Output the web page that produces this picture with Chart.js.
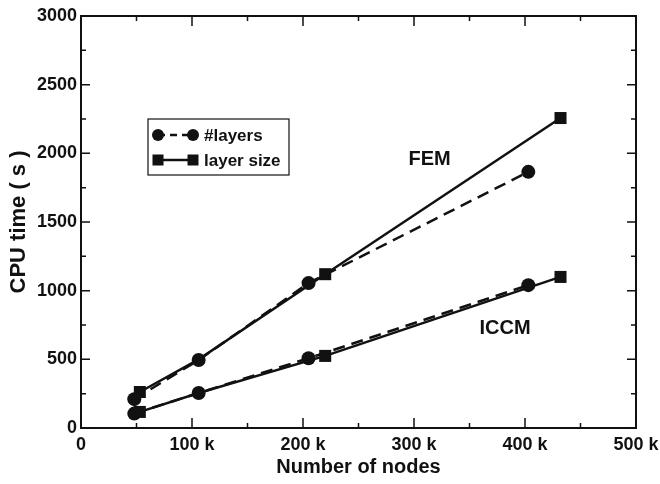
<!DOCTYPE html>
<html>
<head>
<meta charset="utf-8">
<script src="https://cdn.jsdelivr.net/npm/chart.js@4.4.1/dist/chart.umd.min.js"></script>
<style>
  html, body { margin: 0; padding: 0; background: #fff; }
</style>
</head>
<body>
<canvas id="cpu" width="660" height="484"></canvas>
<script>
// values
const nodesLayers = [48000, 106000, 205000, 403000];
const nodesSize = [53000, 106000, 220000, 432000];
const femLayers = [210, 495, 1055, 1865];
const femSize = [262, 500, 1120, 2257];
const iccmLayers = [105, 255, 508, 1040];
const iccmSize = [117, 255, 525, 1100];
const legendLabels = ['#layers', 'layer size'];
const curveNames = ['FEM', 'ICCM'];
const curveNameAt = [[314000, 1952], [382000, 721]];

const FONT = '"Liberation Sans", Arial, sans-serif';
const INK = '#111';

function pts(xs, ys) {
  return xs.map((x, i) => ({ x, y: ys[i] }));
}

function series(label, xs, ys, dashed) {
  return {
    label,
    data: pts(xs, ys),
    showLine: true,
    borderColor: INK,
    backgroundColor: INK,
    borderWidth: 2.5,
    borderDash: dashed ? [12, 7] : [],
    pointStyle: dashed ? 'circle' : 'rect',
    // the square at 106 k sits under the circle in the scan
    pointRadius: dashed ? 7 : [8.5, 5, 8.5, 8.5],
    pointBorderWidth: 0,
    pointBackgroundColor: INK,
    tension: 0,
  };
}

// frame, inward ticks, curve names and the boxed legend
const decor = {
  id: 'decor',
  afterDraw(chart) {
    const { ctx, chartArea: a, scales: { x, y } } = chart;
    ctx.save();
    ctx.strokeStyle = INK;
    ctx.lineWidth = 2;
    ctx.strokeRect(a.left, a.top, a.right - a.left, a.bottom - a.top);

    ctx.lineWidth = 1.5;
    for (let v = 0; v <= 500000; v += 50000) {
      const px = x.getPixelForValue(v);
      const len = v % 100000 === 0 ? 10 : 5;
      ctx.beginPath();
      ctx.moveTo(px, a.bottom); ctx.lineTo(px, a.bottom - len);
      ctx.moveTo(px, a.top); ctx.lineTo(px, a.top + len);
      ctx.stroke();
    }
    for (let v = 0; v <= 3000; v += 250) {
      const py = y.getPixelForValue(v);
      const len = v % 500 === 0 ? 9 : 5;
      ctx.beginPath();
      ctx.moveTo(a.left, py); ctx.lineTo(a.left + len, py);
      ctx.moveTo(a.right, py); ctx.lineTo(a.right - len, py);
      ctx.stroke();
    }

    ctx.fillStyle = INK;
    ctx.font = 'bold 20px ' + FONT;
    ctx.textAlign = 'center';
    ctx.textBaseline = 'middle';
    curveNames.forEach((t, i) => {
      ctx.fillText(t, x.getPixelForValue(curveNameAt[i][0]), y.getPixelForValue(curveNameAt[i][1]));
    });

    // legend box
    const bx = a.left + 67, by = a.top + 103, bw = 141, bh = 56;
    ctx.lineWidth = 1.2;
    ctx.strokeRect(bx, by, bw, bh);
    const rows = [by + 16, by + 41];
    const x1 = bx + 10, x2 = bx + 45;
    ctx.lineWidth = 2.5;
    ctx.setLineDash([7, 5]);
    ctx.beginPath(); ctx.moveTo(x1, rows[0]); ctx.lineTo(x2, rows[0]); ctx.stroke();
    ctx.setLineDash([]);
    ctx.beginPath(); ctx.moveTo(x1, rows[1]); ctx.lineTo(x2, rows[1]); ctx.stroke();
    [x1, x2].forEach(px => {
      ctx.beginPath(); ctx.arc(px, rows[0], 6, 0, Math.PI * 2); ctx.fill();
      ctx.fillRect(px - 5.5, rows[1] - 5.5, 11, 11);
    });
    ctx.font = 'bold 17px ' + FONT;
    ctx.textAlign = 'left';
    legendLabels.forEach((t, i) => ctx.fillText(t, x2 + 11, rows[i] + 1));
    ctx.restore();
  },
};

new Chart(document.getElementById('cpu'), {
  type: 'line',
  data: {
    datasets: [
      series('FEM layer size', nodesSize, femSize, false),
      series('FEM #layers', nodesLayers, femLayers, true),
      series('ICCM layer size', nodesSize, iccmSize, false),
      series('ICCM #layers', nodesLayers, iccmLayers, true),
    ],
  },
  options: {
    responsive: false,
    animation: false,
    layout: { padding: { top: 16, right: 24, left: 0, bottom: 0 } },
    plugins: { legend: { display: false }, tooltip: { enabled: false } },
    scales: {
      x: {
        type: 'linear',
        min: 0,
        max: 500000,
        afterFit: s => { s.height = 56; s.paddingLeft = 0; s.paddingRight = 0; },
        grid: { display: false, drawTicks: false },
        border: { display: false },
        ticks: {
          stepSize: 100000,
          padding: 6,
          color: INK,
          font: { family: FONT, size: 18, weight: 'bold' },
          callback: v => (v === 0 ? '0' : v / 1000 + ' k'),
        },
        title: {
          display: true,
          text: 'Number of nodes',
          color: INK,
          font: { family: FONT, size: 20, weight: 'bold' },
          padding: { top: 0, bottom: 5 },
        },
      },
      y: {
        min: 0,
        max: 3000,
        afterFit: s => { s.width = 81; s.paddingTop = 0; s.paddingBottom = 0; },
        grid: { display: false, drawTicks: false },
        border: { display: false },
        ticks: {
          stepSize: 500,
          padding: 4,
          color: INK,
          font: { family: FONT, size: 18, weight: 'bold' },
          callback: v => String(v),
        },
        title: {
          display: true,
          text: 'CPU time ( s )',
          color: INK,
          font: { family: FONT, size: 22, weight: 'bold' },
          padding: { top: 6, bottom: 0 },
        },
      },
    },
  },
  plugins: [decor],
});
</script>
</body>
</html>
